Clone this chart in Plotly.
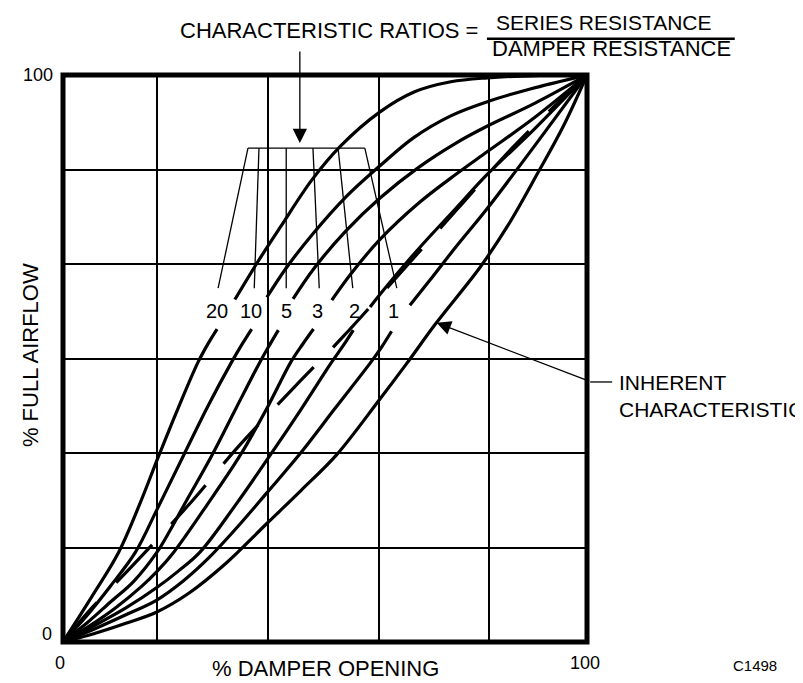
import plotly.graph_objects as go

# % damper opening (x) and % full airflow (y).
# None marks the break in each curve where its ratio label sits.
open_20 = [0, 5.5, 10.6, 14.5, 18.3, 22, 25.8, 27.8, 29.4, None,
           32.8, 37, 41.5, 47.5, 53, 60.5, 67, 74, 81, 90, 100]
flow_20 = [0, 8, 15.8, 24, 32.9, 41.3, 49.4, 52.8, 55.2, None,
           60.4, 66.8, 73.2, 81.5, 87.5, 93.5, 97, 98.8, 99.5, 99.9, 100]

open_10 = [0, 4.5, 9, 13.8, 17.9, 23, 27.6, 32.2, 34.3, 36, None,
           38.9, 42.7, 47.7, 54, 60.5, 67, 74, 81, 89, 100]
flow_10 = [0, 4.6, 9.8, 15.8, 23.3, 32.9, 41.5, 49.4, 52.7, 55.2, None,
           60.8, 66.1, 72, 78.5, 84, 89, 92.8, 95.3, 97.5, 100]

open_5 = [0, 4.5, 9, 13.5, 17.9, 20.5, 23, 28.4, 33, 37.6, 39.5, 41.1, None,
          43.9, 48, 54, 60.5, 68, 75, 81, 90, 100]
flow_5 = [0, 3.3, 7, 10.7, 15.8, 19.8, 24, 32.9, 41.2, 49.4, 52.5, 55.0, None,
          60.5, 66, 72.5, 78.3, 83.8, 88, 91, 95, 100]

open_3 = [0, 5, 10, 15, 17.9, 21.1, 27.5, 33.8, 38.9, 43.5, 45.8, 47.8, None,
          51.3, 55, 60.5, 68, 75, 81, 90, 100]
flow_3 = [0, 2.8, 6, 9.8, 12.4, 15.8, 24.2, 32.9, 41.2, 49.4, 52.6, 55.2, None,
          60.3, 65, 71, 77.5, 82.5, 86.5, 92.5, 100]

open_2 = [0, 6, 12, 17.9, 22, 26.1, 32.8, 39.5, 45.4, 51.3, 53.5, 55.4, None,
          58.6, 62, 68, 75, 81, 90, 100]
flow_2 = [0, 2.9, 6.0, 9.6, 12.5, 15.8, 24, 32.9, 41, 49.4, 52.3, 55.0, None,
          59.1, 63, 69.5, 76.5, 82.5, 90.5, 100]

open_1 = [0, 6, 12, 17.9, 23, 28, 33.5, 38.9, 45.5, 52, 58.8, 60.8, 62.7, None,
          66.2, 70, 75, 81, 90, 100]
flow_1 = [0, 2.3, 4.8, 7.4, 10.8, 15.0, 20.5, 26.3, 33.5, 41.3, 49.4, 52.0, 54.8, None,
          59.4, 63.8, 69.7, 76.5, 87.5, 100]

open_inherent = [0, 6, 12, 17.9, 24, 31, 38.9, 45.5, 52.2, 60.2, 65.5, 71, 79.6, 85, 90.6, 95.5, 100]
flow_inherent = [0, 1.5, 3.3, 5.3, 8.6, 13.8, 20.9, 26.8, 33.0, 42.5, 49, 56, 66.1, 73.6, 82.7, 91, 100]

open_dashed = [0, 5, 13.4, 24, 33.8, 44.2, 53.4, 66.6, 75.4, 85.7, 100]
flow_dashed = [0, 5.5, 13.6, 24.2, 34.8, 45, 53.8, 67.4, 76.5, 87.1, 100]

ratios = ['20', '10', '5', '3', '2', '1']
label_x = [29.4, 35.9, 42.7, 48.5, 55.7, 63.0]
label_y = 58.4
leader_bottom_x = [29.6, 36.5, 42.6, 48.9, 55.3, 63.7]
leader_top_x = [35.3, 37.4, 42.6, 47.7, 52.5, 57.6]

grid_x = [17.9, 39.1, 60.3, 81.3]
grid_y = [100 / 6 * i for i in range(1, 6)]

FONT = 'Liberation Sans, Arial, sans-serif'

fig = go.Figure()

curves = [
    (open_20, flow_20), (open_10, flow_10), (open_5, flow_5), (open_3, flow_3),
    (open_2, flow_2), (open_1, flow_1), (open_inherent, flow_inherent),
]
for xs, ys in curves:
    fig.add_trace(go.Scatter(
        x=xs, y=ys, mode='lines',
        line=dict(color='black', width=3.2, shape='spline', smoothing=1.0),
        connectgaps=False, showlegend=False, hoverinfo='skip'
    ))

fig.add_trace(go.Scatter(
    x=open_dashed, y=flow_dashed, mode='lines',
    line=dict(color='black', width=3.2, dash='52px,28px', shape='spline', smoothing=1.0),
    showlegend=False, hoverinfo='skip'
))


def note(text, x, y, size, ref='paper', **kw):
    yref = 'y' if ref == 'x' else ref
    fig.add_annotation(xref=ref, yref=yref, x=x, y=y, text=text, showarrow=False,
                       xanchor=kw.pop('xanchor', 'center'), yanchor=kw.pop('yanchor', 'middle'),
                       font=dict(family=FONT, size=size, color='black'), **kw)


# ratio labels and leader lines
for r, lx, bx, tx in zip(ratios, label_x, leader_bottom_x, leader_top_x):
    note(r, lx, label_y, 20, ref='x')
    fig.add_shape(type='line', x0=bx, y0=62.4, x1=tx, y1=87.1,
                  line=dict(color='black', width=1.3))
fig.add_shape(type='line', x0=leader_top_x[0], y0=87.1, x1=leader_top_x[-1], y1=87.1,
              line=dict(color='black', width=1.3))

# arrow from the ratio title
fig.add_annotation(x=45.2, y=88.0, ax=0, ay=-93, text='', showarrow=True,
                   arrowhead=2, arrowsize=2.2, arrowwidth=1.3, arrowcolor='black')

# inherent characteristic arrow
fig.add_annotation(x=71.3, y=56.3, ax=154, ay=59, text='', showarrow=True,
                   arrowhead=2, arrowsize=2.2, arrowwidth=1.3, arrowcolor='black')
fig.add_shape(type='line', xref='paper', yref='paper', x0=1.006, y0=0.4586, x1=1.048, y1=0.4586,
              line=dict(color='black', width=1.3))
note('INHERENT<br>CHARACTERISTIC', 1.057, 0.433, 21, xanchor='left', align='left')

# title with fraction
note('CHARACTERISTIC RATIOS =', 0.796, 1.079, 22, xanchor='right')
note('SERIES RESISTANCE', 1.032, 1.117, 21, yanchor='top')
note('DAMPER RESISTANCE', 1.046, 1.047, 22)
fig.add_shape(type='line', xref='paper', yref='paper', x0=0.809, y0=1.064, x1=1.282, y1=1.064,
              line=dict(color='black', width=2.5))

# axis titles and end labels
note('% FULL AIRFLOW', -0.063, 0.506, 22, textangle=-90)
note('% DAMPER OPENING', 0.5, -0.046, 22)
note('C1498', 1.32, -0.041, 15)
note('100', -0.015, 1.0, 18, xanchor='right')
note('0', -0.017, 0.014, 18, xanchor='right')
note('0', -0.006, -0.037, 18)
note('100', 0.996, -0.037, 18)

# heavy frame
fig.add_shape(type='rect', xref='paper', yref='paper', x0=0, y0=0, x1=1, y1=1,
              line=dict(color='black', width=5))

fig.update_xaxes(range=[0, 100], tickvals=grid_x, showticklabels=False, ticks='',
                 showgrid=True, gridcolor='black', gridwidth=1.5, zeroline=False, showline=False)
fig.update_yaxes(range=[0, 100], tickvals=grid_y, showticklabels=False, ticks='',
                 showgrid=True, gridcolor='black', gridwidth=1.5, zeroline=False, showline=False)

# page body adds an 8px offset, so the figure is 8px smaller than the window
fig.update_layout(
    width=795, height=675,
    margin=dict(l=55, r=216, t=67, b=41),
    paper_bgcolor='white', plot_bgcolor='white',
    font=dict(family=FONT, color='black'),
)

fig.write_html('out.html')
